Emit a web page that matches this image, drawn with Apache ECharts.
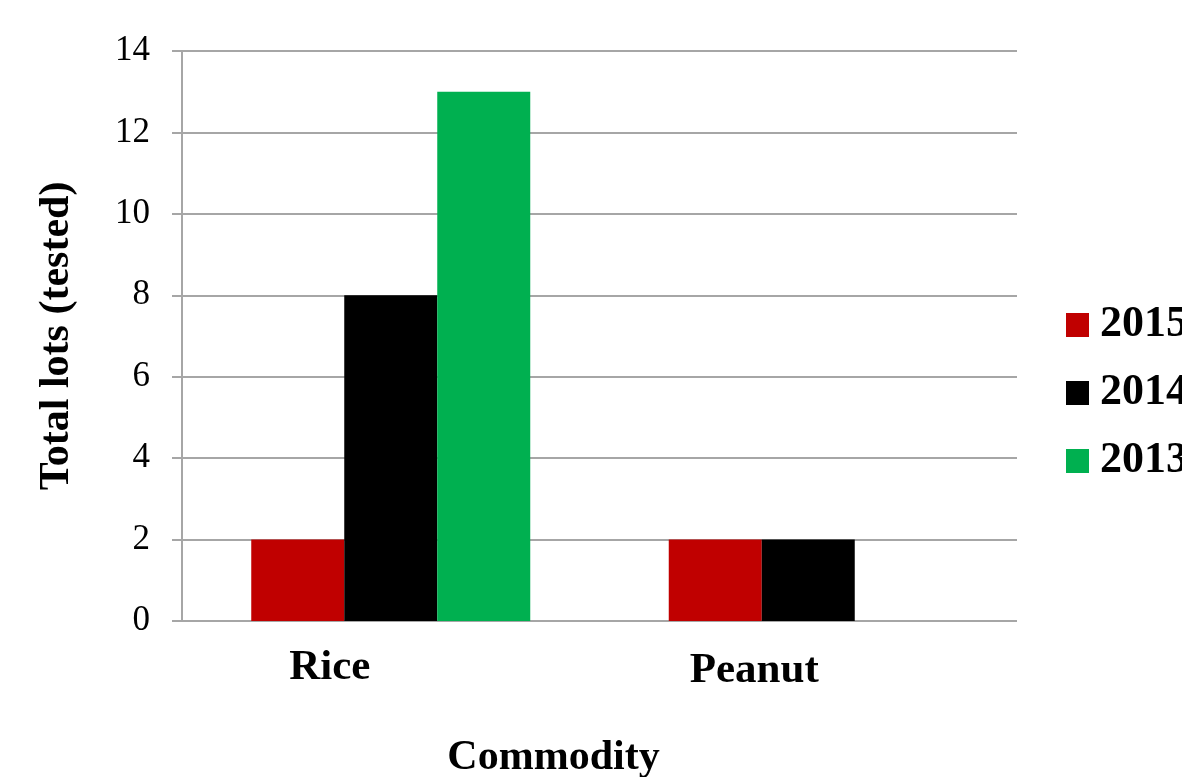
<!DOCTYPE html>
<html>
<head>
<meta charset="utf-8">
<style>
  html, body { margin: 0; padding: 0; background: #ffffff; }
  #chart { width: 1182px; height: 777px; }
</style>
<script src="https://cdn.jsdelivr.net/npm/echarts@6/dist/echarts.min.js"></script>
</head>
<body>
<div id="chart"></div>
<script>
// Lots tested per commodity, by year
const categories = ['Rice', 'Peanut'];
const years = ['2015', '2014', '2013'];
const lots2015 = [2, 2];
const lots2014 = [8, 2];
const lots2013 = [13, 0];
const yTicks = { min: 0, max: 14, interval: 2 };

const colors = ['#C00000', '#000000', '#00B050'];
const serif = '"Liberation Serif", "Times New Roman", serif';
const gridGray = '#a6a6a6';

const chart = echarts.init(document.getElementById('chart'), null, { renderer: 'canvas' });

const seriesData = [lots2015, lots2014, lots2013];

// category labels sit a little left of their group centre
const catLabelStyle = {
  fontFamily: serif,
  fontWeight: 'bold',
  fontSize: 43,
  color: '#000000'
};

chart.setOption({
  animation: false,
  backgroundColor: '#ffffff',
  grid: {
    left: 182, right: 165, top: 51, bottom: 156,
    containLabel: false,
    outerBoundsMode: 'none'
  },
  legend: {
    orient: 'vertical',
    left: 1066,
    top: 303,
    padding: 0,
    itemWidth: 23,
    itemHeight: 24,
    itemGap: 24,
    icon: 'rect',
    data: years,
    textStyle: {
      fontFamily: serif,
      fontWeight: 'bold',
      fontSize: 44,
      color: '#000000',
      padding: [0, 0, 0, 6]
    }
  },
  xAxis: {
    type: 'category',
    data: categories,
    name: 'Commodity',
    nameLocation: 'middle',
    nameGap: 116,
    nameTextStyle: {
      fontFamily: serif,
      fontWeight: 'bold',
      fontSize: 42,
      color: '#000000',
      padding: [0, 92, 0, 0]
    },
    axisLine: { show: false },
    axisTick: { show: false },
    axisLabel: {
      margin: 22,
      formatter: (v, i) => (i === 0 ? '{a|' + v + '}' : '{b|' + v + '}'),
      rich: {
        a: Object.assign({ padding: [3, 122, 0, 0] }, catLabelStyle),
        b: Object.assign({ padding: [6, 108, 0, 0] }, catLabelStyle)
      }
    }
  },
  yAxis: {
    type: 'value',
    min: yTicks.min,
    max: yTicks.max,
    interval: yTicks.interval,
    name: 'Total lots (tested)',
    nameLocation: 'middle',
    nameGap: 104,
    nameRotate: 90,
    nameTextStyle: {
      fontFamily: serif,
      fontWeight: 'bold',
      fontSize: 42,
      color: '#000000'
    },
    axisLine: { show: true, lineStyle: { color: gridGray, width: 2 } },
    axisTick: { show: true, length: 10, lineStyle: { color: gridGray, width: 2 } },
    axisLabel: {
      fontFamily: serif,
      fontSize: 35,
      color: '#000000',
      margin: 32
    },
    splitLine: { show: true, lineStyle: { color: gridGray, width: 2 } }
  },
  series: years.map((y, i) => ({
    name: y,
    type: 'bar',
    data: seriesData[i],
    barWidth: 93,
    barGap: '0%',
    itemStyle: { color: colors[i] }
  }))
});
</script>
</body>
</html>
